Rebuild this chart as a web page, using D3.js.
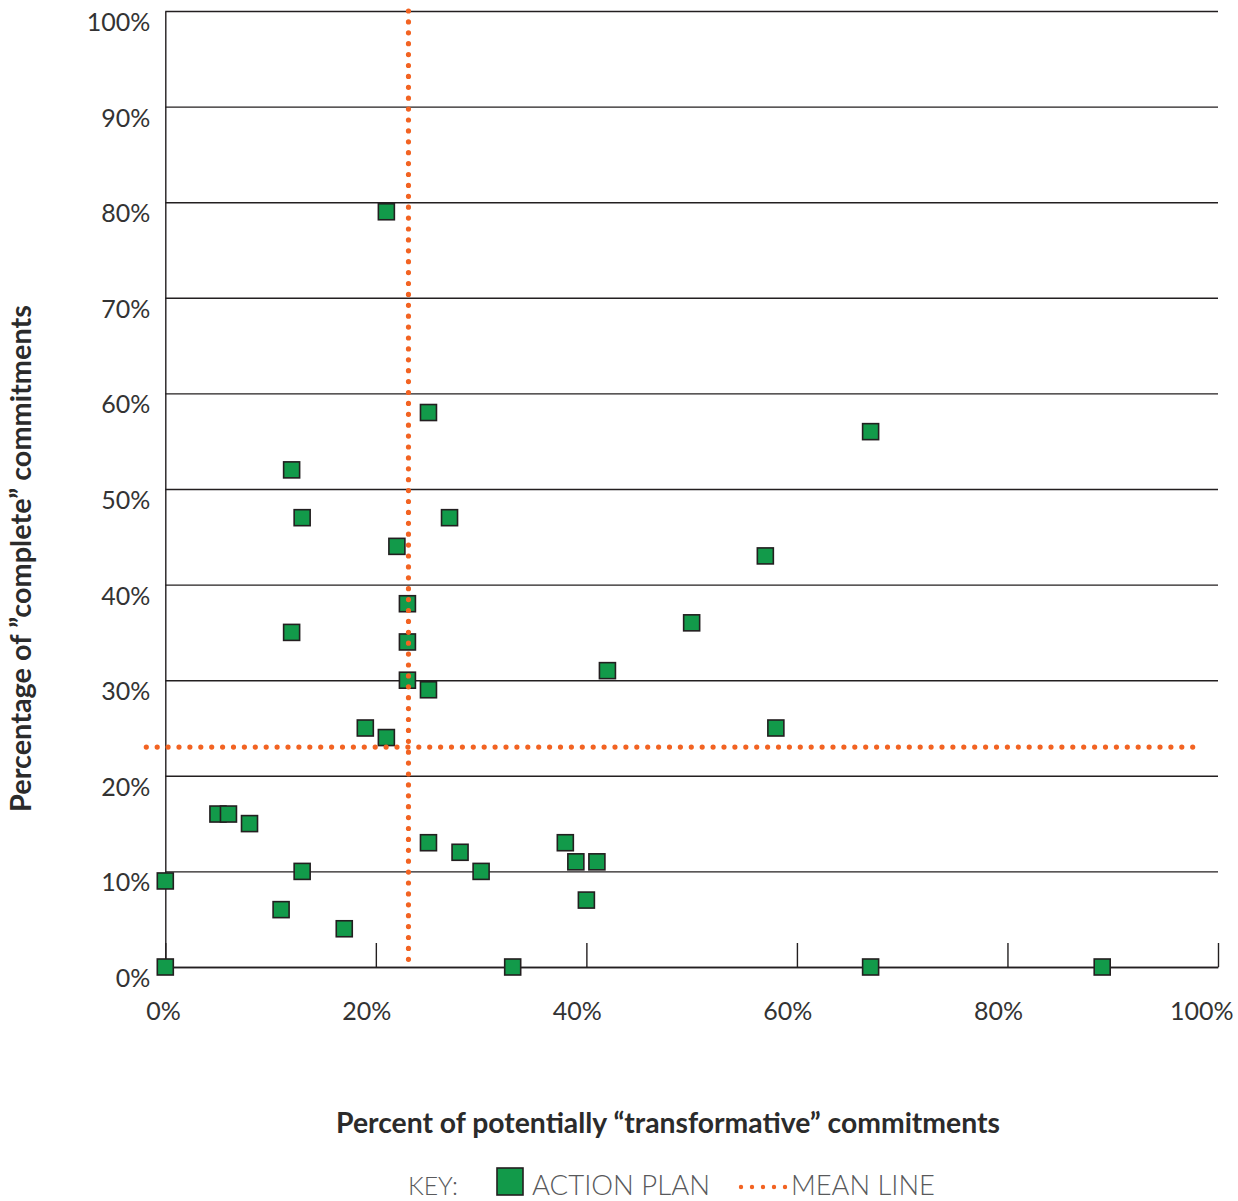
<!DOCTYPE html>
<html>
<head>
<meta charset="utf-8">
<script src="https://cdn.jsdelivr.net/npm/d3@7"></script>
<style>
  html, body { margin: 0; padding: 0; background: #fff; }
  svg { display: block; }
  text { font-family: Lato, "Open Sans", sans-serif; }
</style>
</head>
<body>
<svg id="chart" width="1238" height="1201"></svg>
<script>
// ---- data ----
const transformative = [21, 25, 67, 12, 13, 27, 22, 57, 23, 12, 50, 23, 42, 23, 25, 19, 21, 58, 5, 6, 8, 25, 28, 30, 38, 39, 41, 40, 0, 13, 11, 17, 0, 33, 67, 89];
const complete       = [79, 58, 56, 52, 47, 47, 44, 43, 38, 35, 36, 34, 31, 30, 29, 25, 24, 25, 16, 16, 15, 13, 12, 10, 13, 11, 11, 7, 9, 10, 6, 4, 0, 0, 0, 0];
const meanTransformative = 23.1;
const meanComplete = 23.0;
const xTicks = [0, 20, 40, 60, 80, 100];
const yTicks = [0, 10, 20, 30, 40, 50, 60, 70, 80, 90, 100];
const xTitle = "Percent of potentially \u201Ctransformative\u201D commitments";
const yTitle = "Percentage of \u201Dcomplete\u201D commitments";
const legendKey = "KEY:";
const legendSeries = "ACTION PLAN";
const legendMean = "MEAN LINE";

(function () {
// ---- layout ----
const svg = d3.select("#chart");
const pLeft = 165.3, pRight = 1218, pTop = 11, pBottom = 967;
const x = d3.scaleLinear().domain([0, 100]).range([pLeft, pRight]);
const y = d3.scaleLinear().domain([0, 100]).range([pBottom, pTop]);

const ink = "#231f20";
const green = "#129a4a";
const orange = "#f26322";
const pct = d => d + "%";

// y axis with gridlines
const gy = svg.append("g")
  .attr("transform", `translate(${pLeft},0)`)
  .call(d3.axisLeft(y).tickValues(yTicks).tickFormat(pct)
    .tickSize(-(pRight - pLeft)).tickSizeOuter(0).tickPadding(15));
gy.select(".domain").attr("stroke", ink).attr("stroke-width", 1.4);
gy.selectAll(".tick line").attr("stroke", ink).attr("stroke-width", 1.4);
gy.selectAll(".tick text")
  .attr("dy", null).attr("y", 19.5)
  .attr("fill", "#333333").attr("font-size", 25).attr("font-weight", 400)
  .attr("font-family", "Lato, sans-serif");

// x axis with upward ticks
const gx = svg.append("g")
  .attr("transform", `translate(0,${pBottom})`)
  .call(d3.axisBottom(x).tickValues(xTicks).tickFormat(pct)
    .tickSize(-24).tickSizeOuter(0));
gx.select(".domain").attr("stroke", ink).attr("stroke-width", 1.4);
gx.selectAll(".tick line").attr("stroke", ink).attr("stroke-width", 1.4);
gx.selectAll(".tick text")
  .attr("dy", null).attr("y", 53).attr("x", 15)
  .attr("text-anchor", "end")
  .attr("fill", "#333333").attr("font-size", 25).attr("font-weight", 400)
  .attr("font-family", "Lato, sans-serif");

// points
const size = 16;
svg.append("g").selectAll("rect")
  .data(transformative.map((t, i) => ({ t, c: complete[i] })))
  .join("rect")
  .attr("x", d => x(d.t) - size / 2)
  .attr("y", d => y(d.c) - size / 2)
  .attr("width", size).attr("height", size)
  .attr("fill", green).attr("stroke", ink).attr("stroke-width", 1.6);

// mean lines (drawn on top)
const dotted = sel => sel.attr("stroke", orange).attr("stroke-width", 5.2)
  .attr("stroke-linecap", "round").attr("stroke-dasharray", "0 10.9").attr("fill", "none");
svg.append("line")
  .attr("x1", x(meanTransformative)).attr("x2", x(meanTransformative))
  .attr("y1", y(100)).attr("y2", y(0) - 5)
  .call(dotted);
svg.append("line")
  .attr("x1", x(0) - 19).attr("x2", x(100) - 24)
  .attr("y1", y(meanComplete)).attr("y2", y(meanComplete))
  .call(dotted);

// helper: fit a text to a target width
function fit(sel, target) {
  const fs = +sel.attr("font-size");
  const w = sel.node().getComputedTextLength();
  if (w > 0) sel.attr("font-size", (fs * target / w).toFixed(2));
  return sel;
}

// axis titles
const xt = svg.append("text")
  .attr("x", 668).attr("y", 1133).attr("text-anchor", "middle")
  .attr("font-size", 23).attr("font-weight", 700).attr("fill", "#2b2b2b")
  .text(xTitle);
fit(xt, 664);

const yt = svg.append("text")
  .attr("transform", "translate(31,558.5) rotate(-90)")
  .attr("text-anchor", "middle")
  .attr("font-size", 23).attr("font-weight", 700).attr("fill", "#2b2b2b")
  .text(yTitle);
fit(yt, 507);

// legend
const lg = svg.append("g");
const k = lg.append("text").attr("x", 408).attr("y", 1195)
  .attr("font-size", 24).attr("font-weight", 300).attr("fill", "#58595b").text(legendKey);
fit(k, 50);
lg.append("rect").attr("x", 497).attr("y", 1168).attr("width", 26).attr("height", 27)
  .attr("fill", green).attr("stroke", ink).attr("stroke-width", 1.6);
const a = lg.append("text").attr("x", 532).attr("y", 1195)
  .attr("font-size", 24).attr("font-weight", 300).attr("fill", "#58595b").text(legendSeries);
fit(a, 178);
lg.append("line").attr("x1", 741).attr("x2", 786).attr("y1", 1187).attr("y2", 1187)
  .attr("stroke", orange).attr("stroke-width", 4.4).attr("stroke-linecap", "round")
  .attr("stroke-dasharray", "0 11");
const m = lg.append("text").attr("x", 791).attr("y", 1195)
  .attr("font-size", 24).attr("font-weight", 300).attr("fill", "#58595b").text(legendMean);
fit(m, 144);
})();
</script>
</body>
</html>
